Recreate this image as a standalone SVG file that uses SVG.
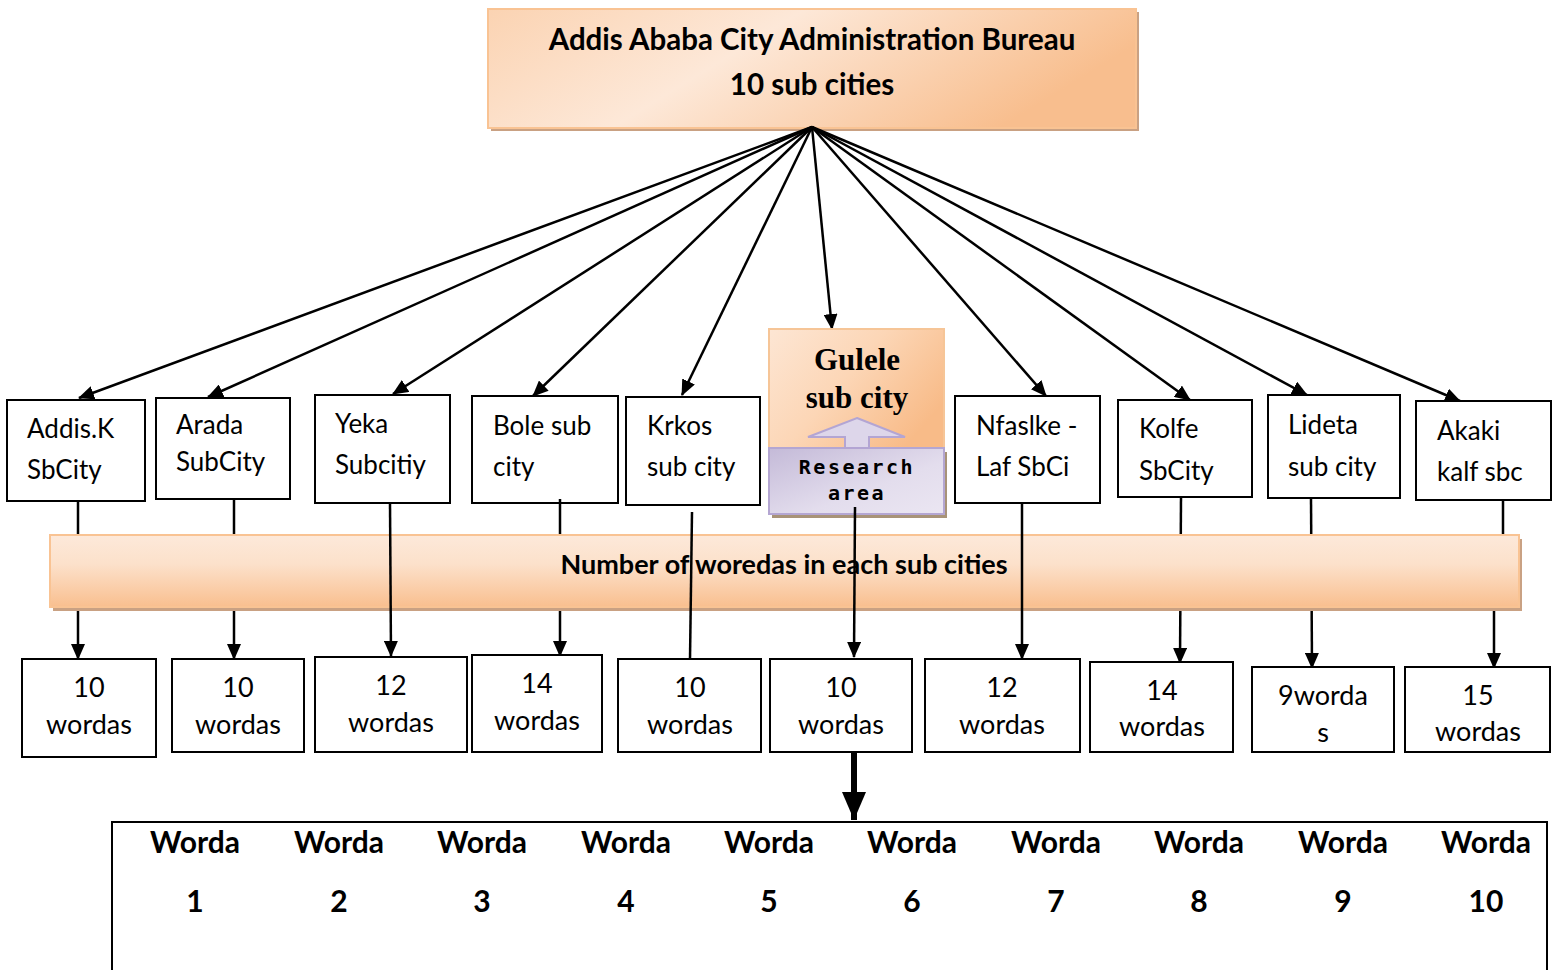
<svg xmlns="http://www.w3.org/2000/svg" width="1556" height="970" viewBox="0 0 1556 970">
<defs>
<linearGradient id="og" x1="0" y1="0" x2="1" y2="0.3">
<stop offset="0" stop-color="#fbd3b2"/>
<stop offset="0.45" stop-color="#fde8d8"/>
<stop offset="1" stop-color="#f8be8e"/>
</linearGradient>
<linearGradient id="og2" x1="0" y1="0" x2="0" y2="1">
<stop offset="0" stop-color="#fde9da"/>
<stop offset="0.4" stop-color="#fce1cb"/>
<stop offset="1" stop-color="#f9bf8f"/>
</linearGradient>
<linearGradient id="og3" x1="0" y1="0" x2="1" y2="0.6">
<stop offset="0" stop-color="#fde6d4"/>
<stop offset="0.5" stop-color="#fcd6b6"/>
<stop offset="1" stop-color="#f8bb88"/>
</linearGradient>
<linearGradient id="pg" x1="0" y1="0" x2="1" y2="1">
<stop offset="0" stop-color="#c4bad8"/>
<stop offset="0.6" stop-color="#e3dded"/>
<stop offset="1" stop-color="#ebe6f2"/>
</linearGradient>
<marker id="ah" markerUnits="userSpaceOnUse" markerWidth="16" markerHeight="14" refX="15" refY="7" orient="auto">
<path d="M0,0 L16,7 L0,14 z" fill="#000"/>
</marker>
<marker id="ahb" markerUnits="userSpaceOnUse" markerWidth="28" markerHeight="24" refX="28" refY="12" orient="auto">
<path d="M0,0 L28,12 L0,24 z" fill="#000"/>
</marker>
</defs>
<style>
.box{fill:#fff;stroke:#000;stroke-width:2}
.lbl{font-family:Lato,"Open Sans","Liberation Sans",sans-serif;font-size:26px;fill:#000}
.num{font-family:Lato,"Open Sans","Liberation Sans",sans-serif;font-size:27px;fill:#000;text-anchor:middle}
.bold{font-family:Lato,"Open Sans","Liberation Sans",sans-serif;font-weight:bold;fill:#000;text-anchor:middle}
.con{stroke:#000;stroke-width:2.5;fill:none}
</style>
<rect width="1556" height="970" fill="#fff"/>

<g id="top">
<rect x="491" y="12" width="648" height="119" fill="#c9a183"/>
<rect x="488" y="9" width="648" height="119" fill="url(#og)" stroke="#f9c393" stroke-width="2"/>
<text class="bold" x="812" y="50" font-size="29.5">Addis Ababa City Administration Bureau</text>
<text class="bold" x="812" y="95" font-size="29.5">10 sub cities</text>
</g>

<g id="connectors-top">
<line class="con" x1="812" y1="127" x2="79" y2="398" marker-end="url(#ah)"/>
<line class="con" x1="812" y1="127" x2="208" y2="397" marker-end="url(#ah)"/>
<line class="con" x1="812" y1="127" x2="393" y2="394" marker-end="url(#ah)"/>
<line class="con" x1="812" y1="127" x2="533" y2="396" marker-end="url(#ah)"/>
<line class="con" x1="812" y1="127" x2="682" y2="395" marker-end="url(#ah)"/>
<line class="con" x1="812" y1="127" x2="832" y2="329" marker-end="url(#ah)"/>
<line class="con" x1="812" y1="127" x2="1046" y2="396" marker-end="url(#ah)"/>
<line class="con" x1="812" y1="127" x2="1190" y2="400" marker-end="url(#ah)"/>
<line class="con" x1="812" y1="127" x2="1307" y2="395" marker-end="url(#ah)"/>
<line class="con" x1="812" y1="127" x2="1460" y2="401" marker-end="url(#ah)"/>
</g>

<g id="sub1"><rect class="box" x="7" y="400" width="138" height="101"/><text class="lbl" x="27" y="438">Addis.K</text><text class="lbl" x="27" y="479">SbCity</text></g>
<g id="sub2"><rect class="box" x="156" y="398" width="134" height="101"/><text class="lbl" x="176" y="434" font-size="24">Arada</text><text class="lbl" x="176" y="471" font-size="24">SubCity</text></g>
<g id="sub3"><rect class="box" x="315" y="395" width="135" height="108"/><text class="lbl" x="335" y="433">Yeka</text><text class="lbl" x="335" y="474">Subcitiy</text></g>
<g id="sub4"><rect class="box" x="472" y="396" width="146" height="107"/><text class="lbl" x="493" y="435">Bole sub</text><text class="lbl" x="493" y="476">city</text></g>
<g id="sub5"><rect class="box" x="626" y="397" width="134" height="108"/><text class="lbl" x="647" y="435">Krkos</text><text class="lbl" x="647" y="476">sub city</text></g>

<g id="sub6">
<rect x="772" y="452" width="175" height="66" fill="#a89378"/>
<rect x="769" y="329" width="175" height="122" fill="url(#og3)" stroke="#f6c597" stroke-width="2"/>
<rect x="769" y="448" width="175" height="66" fill="url(#pg)" stroke="#b4a6d2" stroke-width="2"/>
<path d="M857,418 L905,437 L869,437 L869,448 L845,448 L845,437 L808,437 Z" fill="#ddd6ea" stroke="#b3a5d3" stroke-width="2"/>
<text x="857" y="370" font-family="'Liberation Serif','Times New Roman',serif" font-weight="bold" font-size="31" text-anchor="middle">Gulele</text>
<text x="857" y="408" font-family="'Liberation Serif','Times New Roman',serif" font-weight="bold" font-size="31" text-anchor="middle">sub city</text>
<text x="857" y="474" font-family="'DejaVu Sans Mono','Liberation Mono',monospace" font-weight="bold" font-size="20" text-anchor="middle" letter-spacing="2.5">Research</text>
<text x="857" y="500" font-family="'DejaVu Sans Mono','Liberation Mono',monospace" font-weight="bold" font-size="20" text-anchor="middle" letter-spacing="2.5">area</text>
</g>

<g id="sub7"><rect class="box" x="955" y="396" width="145" height="107"/><text class="lbl" x="976" y="435">Nfaslke -</text><text class="lbl" x="976" y="476">Laf SbCi</text></g>
<g id="sub8"><rect class="box" x="1118" y="400" width="134" height="97"/><text class="lbl" x="1139" y="438">Kolfe</text><text class="lbl" x="1139" y="480">SbCity</text></g>
<g id="sub9"><rect class="box" x="1268" y="395" width="132" height="103"/><text class="lbl" x="1288" y="434">Lideta</text><text class="lbl" x="1288" y="476">sub city</text></g>
<g id="sub10"><rect class="box" x="1416" y="401" width="135" height="99"/><text class="lbl" x="1437" y="440">Akaki</text><text class="lbl" x="1437" y="481">kalf sbc</text></g>

<g id="connectors-behind">
<line class="con" x1="78" y1="501" x2="78" y2="659" marker-end="url(#ah)"/>
<line class="con" x1="234" y1="499" x2="234" y2="659" marker-end="url(#ah)"/>
<line class="con" x1="560" y1="499" x2="560" y2="656" marker-end="url(#ah)"/>
<line class="con" x1="1181" y1="497" x2="1180" y2="663" marker-end="url(#ah)"/>
<line class="con" x1="1311" y1="498" x2="1312" y2="668" marker-end="url(#ah)"/>
<polyline class="con" points="1503,500 1503,560 1494,560 1494,668" marker-end="url(#ah)"/>
</g>

<g id="banner">
<rect x="53" y="539" width="1469" height="72" fill="#c9a183"/>
<rect x="50" y="535" width="1469" height="72" fill="url(#og2)" stroke="#f9c393" stroke-width="2"/>
<text class="bold" x="784" y="574" font-size="27">Number of woredas in each sub cities</text>
</g>

<g id="connectors-front">
<line class="con" x1="390" y1="503" x2="391" y2="656" marker-end="url(#ah)"/>
<line class="con" x1="692" y1="512" x2="690" y2="659"/>
<line class="con" x1="855" y1="507" x2="854" y2="657" marker-end="url(#ah)"/>
<line class="con" x1="1022" y1="503" x2="1022" y2="659" marker-end="url(#ah)"/>
<line stroke="#000" stroke-width="6" x1="854" y1="752" x2="854" y2="820" marker-end="url(#ahb)"/>
</g>

<g id="w1"><rect class="box" x="22" y="659" width="134" height="98"/><text class="num" x="89" y="697">10</text><text class="num" x="89" y="734">wordas</text></g>
<g id="w2"><rect class="box" x="172" y="659" width="132" height="93"/><text class="num" x="238" y="697">10</text><text class="num" x="238" y="734">wordas</text></g>
<g id="w3"><rect class="box" x="315" y="657" width="152" height="95"/><text class="num" x="391" y="695">12</text><text class="num" x="391" y="732">wordas</text></g>
<g id="w4"><rect class="box" x="472" y="655" width="130" height="97"/><text class="num" x="537" y="693">14</text><text class="num" x="537" y="730">wordas</text></g>
<g id="w5"><rect class="box" x="618" y="659" width="143" height="93"/><text class="num" x="690" y="697">10</text><text class="num" x="690" y="734">wordas</text></g>
<g id="w6"><rect class="box" x="770" y="659" width="142" height="93"/><text class="num" x="841" y="697">10</text><text class="num" x="841" y="734">wordas</text></g>
<g id="w7"><rect class="box" x="925" y="659" width="155" height="93"/><text class="num" x="1002" y="697">12</text><text class="num" x="1002" y="734">wordas</text></g>
<g id="w8"><rect class="box" x="1090" y="662" width="143" height="90"/><text class="num" x="1162" y="700">14</text><text class="num" x="1162" y="736">wordas</text></g>
<g id="w9"><rect class="box" x="1252" y="667" width="142" height="85"/><text class="num" x="1323" y="705">9worda</text><text class="num" x="1323" y="742">s</text></g>
<g id="w10"><rect class="box" x="1405" y="667" width="145" height="85"/><text class="num" x="1478" y="705">15</text><text class="num" x="1478" y="741">wordas</text></g>

<g id="table">
<path d="M112,972 L112,822 L1547,822 L1547,972" fill="none" stroke="#000" stroke-width="2"/>
<g class="bold" font-size="30">
<text x="195" y="853">Worda</text><text x="195" y="912">1</text>
<text x="339" y="853">Worda</text><text x="339" y="912">2</text>
<text x="482" y="853">Worda</text><text x="482" y="912">3</text>
<text x="626" y="853">Worda</text><text x="626" y="912">4</text>
<text x="769" y="853">Worda</text><text x="769" y="912">5</text>
<text x="912" y="853">Worda</text><text x="912" y="912">6</text>
<text x="1056" y="853">Worda</text><text x="1056" y="912">7</text>
<text x="1199" y="853">Worda</text><text x="1199" y="912">8</text>
<text x="1343" y="853">Worda</text><text x="1343" y="912">9</text>
<text x="1486" y="853">Worda</text><text x="1486" y="912">10</text>
</g>
</g>
</svg>
